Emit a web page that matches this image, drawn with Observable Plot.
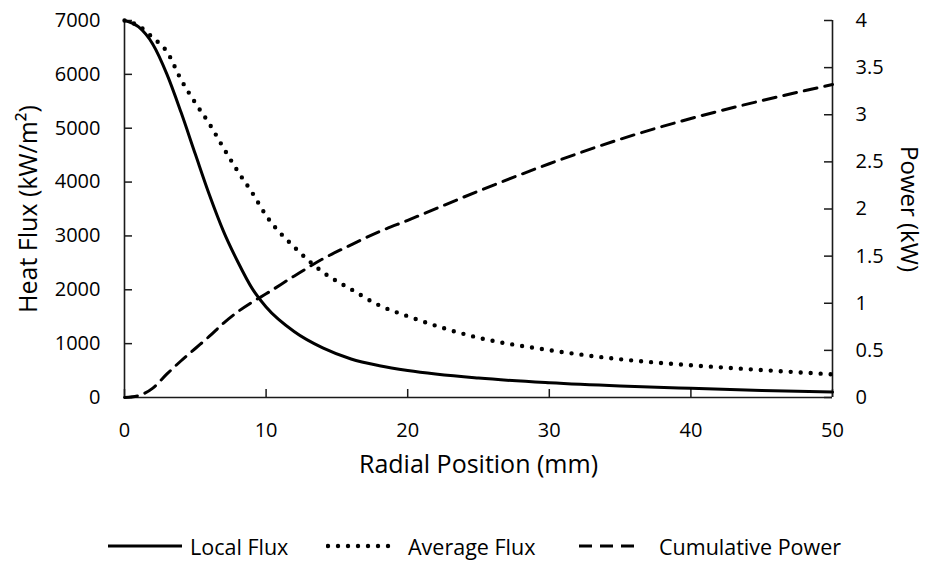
<!DOCTYPE html>
<html>
<head>
<meta charset="utf-8">
<script src="https://cdn.jsdelivr.net/npm/d3@7"></script>
<script src="https://cdn.jsdelivr.net/npm/@observablehq/plot@0.6"></script>
<style>
  html, body { margin: 0; padding: 0; background: #fff; }
  #wrap { position: relative; width: 927px; height: 561px; font-family: "Open Sans", Lato, sans-serif; }
  #legend { position: absolute; left: 0; top: 500px; width: 927px; height: 61px; }
  .li { position: absolute; top: 33px; height: 26px; display: flex; align-items: center; font-size: 21.5px; color: #000; white-space: nowrap; }
  .li svg { display: block; }
</style>
</head>
<body>
<div id="wrap">
  <div id="chart"></div>
  <div id="legend"></div>
</div>
<script>
// Radial position (mm)
const radialPosition = [0, 1, 2, 3, 4, 5, 6, 7, 8, 9, 10, 12, 14, 16, 18, 20, 25, 30, 35, 40, 45, 50];
// Local heat flux (kW/m²)
const localFlux = [7000, 6880, 6560, 6000, 5290, 4520, 3760, 3080, 2520, 2030, 1680, 1220, 920, 715, 590, 500, 360, 275, 215, 170, 130, 100];
// Average heat flux (kW/m²)
const averageFlux = [7000, 6900, 6680, 6420, 5900, 5470, 5080, 4630, 4200, 3810, 3380, 2790, 2330, 2010, 1710, 1510, 1110, 880, 710, 600, 510, 430];
// Cumulative power (kW)
const cumulativePower = [0, 0.02, 0.1, 0.25, 0.39, 0.52, 0.65, 0.79, 0.91, 1.01, 1.10, 1.29, 1.47, 1.62, 1.76, 1.88, 2.19, 2.48, 2.74, 2.96, 3.15, 3.32];

const xTicks = [0, 10, 20, 30, 40, 50];
const fluxTicks = [0, 1000, 2000, 3000, 4000, 5000, 6000, 7000];
const powerTicks = ["0", "0.5", "1", "1.5", "2", "2.5", "3", "3.5", "4"];
const seriesNames = ["Local Flux", "Average Flux", "Cumulative Power"];

const fluxMax = 7000, powerMax = 4;
const k = fluxMax / powerMax; // map power onto flux scale

const rows = radialPosition.map((x, i) => ({
  x, local: localFlux[i], avg: averageFlux[i], power: cumulativePower[i] * k
}));

const ink = "#000";
const axisInk = "#1a1a1a";
const styles = {
  "Local Flux": {stroke: ink, strokeWidth: 3},
  "Average Flux": {stroke: ink, strokeWidth: 4.4, strokeDasharray: "0 10", strokeLinecap: "round"},
  "Cumulative Power": {stroke: ink, strokeWidth: 3, strokeDasharray: "13 8"}
};

const W = 927, H = 500, mL = 124, mR = 95, mT = 20, mB = 103;
const tickLen = 8;

const chart = Plot.plot({
  width: W,
  height: H,
  marginLeft: mL,
  marginRight: mR,
  marginTop: mT,
  marginBottom: mB,
  style: {fontFamily: "'Open Sans', Lato, sans-serif", fontSize: "20px", color: "#000", background: "#fff"},
  x: {domain: [0, 50], axis: null},
  y: {domain: [0, fluxMax], axis: null},
  marks: [
    // frame lines
    Plot.ruleX([0], {stroke: axisInk, strokeWidth: 1.6}),
    Plot.ruleX([50], {stroke: axisInk, strokeWidth: 1.6}),
    Plot.ruleY([0], {stroke: axisInk, strokeWidth: 1.6}),
    // inward ticks
    Plot.tickX(xTicks, {x: d => d, insetTop: (H - mT - mB) - tickLen, stroke: axisInk, strokeWidth: 1.5}),
    Plot.tickY(fluxTicks, {y: d => d, insetRight: (W - mL - mR) - tickLen, stroke: axisInk, strokeWidth: 1.5}),
    Plot.tickY(powerTicks.map(p => +p * k), {y: d => d, insetLeft: (W - mL - mR) - tickLen, stroke: axisInk, strokeWidth: 1.5}),
    // tick labels
    Plot.axisX({ticks: xTicks, tickSize: 0, tickPadding: 25, tickFormat: d => String(d), label: null, fontSize: 20}),
    Plot.axisY({anchor: "left", ticks: fluxTicks, tickSize: 0, tickPadding: 24, tickFormat: d3.format("d"), label: null, fontSize: 20}),
    Plot.axisY({anchor: "right", ticks: powerTicks.map(p => +p * k), tickSize: 0, tickPadding: 23,
      tickFormat: d => powerTicks[Math.round(d / k * 2)], label: null, fontSize: 20}),
    // axis titles
    Plot.text(["Radial Position (mm)"], {frameAnchor: "bottom", textAnchor: "middle", dy: 75, fontSize: 25, fill: ink}),
    Plot.text(["Heat Flux (kW/m²)"], {frameAnchor: "left", textAnchor: "middle", dx: -96, rotate: -90, fontSize: 25, fill: ink}),
    Plot.text(["Power (kW)"], {frameAnchor: "right", textAnchor: "middle", dx: 76, rotate: 90, fontSize: 24, fill: ink}),
    // series
    Plot.line(rows, {x: "x", y: "local", curve: "monotone-x", ...styles["Local Flux"]}),
    Plot.line(rows, {x: "x", y: "avg", curve: "monotone-x", ...styles["Average Flux"]}),
    Plot.line(rows, {x: "x", y: "power", curve: "monotone-x", ...styles["Cumulative Power"]})
  ]
});
document.getElementById("chart").appendChild(chart);

// legend
const legendPos = [
  {sample: [108, 74], text: 190},
  {sample: [326, 66], text: 408},
  {sample: [579, 60], text: 659}
];
const legend = document.getElementById("legend");
seriesNames.forEach((name, i) => {
  const s = styles[name];
  const p = legendPos[i];
  const sw = document.createElement("div");
  sw.className = "li";
  sw.style.left = p.sample[0] + "px";
  sw.innerHTML = `<svg width="${p.sample[1]}" height="10"><line x1="${s.strokeLinecap === "round" ? 2 : 0}" y1="5" x2="${p.sample[1]}" y2="5" stroke="${s.stroke}" stroke-width="${s.strokeWidth}" ${s.strokeDasharray ? `stroke-dasharray="${s.strokeDasharray}"` : ""} ${s.strokeLinecap ? `stroke-linecap="${s.strokeLinecap}"` : ""}/></svg>`;
  legend.appendChild(sw);
  const t = document.createElement("div");
  t.className = "li";
  t.style.left = p.text + "px";
  t.textContent = name;
  legend.appendChild(t);
});
</script>
</body>
</html>
